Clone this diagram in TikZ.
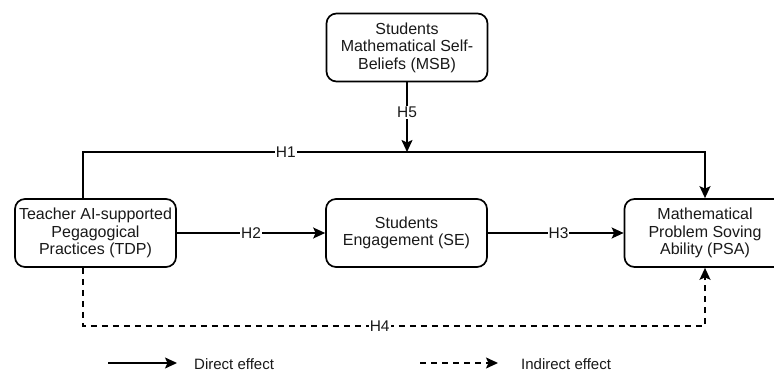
\documentclass[tikz,border=0pt]{standalone}
\usepackage{fontspec}
\setmainfont{Liberation Sans}
\usetikzlibrary{arrows.meta}
\definecolor{ink}{RGB}{25,25,25}
\begin{document}
\begin{tikzpicture}[x=1pt,y=-1pt,
  font=\fontsize{16}{17.5}\selectfont,
  every node/.style={text=ink},
  box/.style={draw=black, line width=1.7pt, rounded corners=10pt,
    minimum width=161pt, minimum height=68pt, align=center, inner sep=2pt},
  link/.style={draw=black, line width=1.7pt},
  arr/.style={link, -{Stealth[length=12pt,width=11pt,inset=2.5pt]}},
  dsh/.style={dash pattern=on 6pt off 5pt},
  lbl/.style={fill=white, inner sep=1pt, font=\fontsize{15.5}{17}\selectfont}]
\useasboundingbox (0,0) rectangle (774,371);
\clip (0,0) rectangle (774,371);
\fill[white] (0,0) rectangle (774,371);

% constructs
\node[box] (msb) at (407,47.5) {Students\\Mathematical Self-\\Beliefs (MSB)};
\node[box] (tdp) at (95.5,233) {Teacher AI-supported\\Pegagogical\\Practices (TDP)};
\node[box] (se)  at (406.5,233) {Students\\Engagement (SE)};
\node[box] (psa) at (705,233) {Mathematical\\Problem Soving\\Ability (PSA)};

% routing points
\coordinate (t1) at (83,152);
\coordinate (j)  at (407,152);
\coordinate (t2) at (705,152);
\coordinate (b1) at (83,326);
\coordinate (b2) at (705,326);

% direct paths
\draw[arr] ([xshift=-12.5pt]tdp.north) -- (t1) -- node[lbl,pos=0.326]{H1} (t2) -- (psa.north);
\draw[arr] (msb.south) -- node[lbl,pos=0.43]{H5} (j);
\draw[arr] (tdp.east) -- node[lbl,pos=0.5]{H2} (se.west);
\draw[arr] (se.east) -- node[lbl,pos=0.52]{H3} (psa.west);

% indirect path
\draw[arr,dsh] ([xshift=-12.5pt]tdp.south) -- (b1) -- node[lbl,pos=0.477]{H4} (b2) -- (psa.south);

% legend
\coordinate (ls1) at (108,363);
\coordinate (ls2) at (177,363);
\coordinate (ld1) at (420,363);
\coordinate (ld2) at (498,363);
\draw[arr] (ls1) -- (ls2);
\node[anchor=west, inner sep=0pt, font=\fontsize{15}{17}\selectfont] (ltxt1) at (194,364) {Direct effect};
\draw[arr,dsh] (ld1) -- (ld2);
\node[anchor=west, inner sep=0pt, font=\fontsize{15}{17}\selectfont] (ltxt2) at (521,364) {Indirect effect};
\end{tikzpicture}
\end{document}
